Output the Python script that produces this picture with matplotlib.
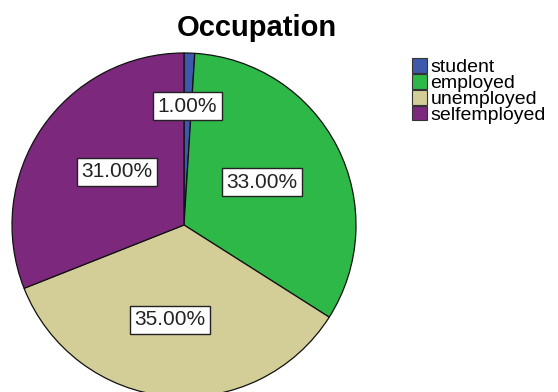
import matplotlib.pyplot as plt
from matplotlib.patches import Patch

categories = ["student", "employed", "unemployed", "selfemployed"]
percents = [1.0, 33.0, 35.0, 31.0]
colors = ["#3E58AC", "#2EB848", "#D3CE97", "#7C287D"]

# where each percentage box sits, in pie-radius units from the centre
label_xy = [(0.02, 0.69), (0.455, 0.25), (-0.08, -0.55), (-0.39, 0.31)]

plt.rcParams['font.family'] = ['Liberation Sans', 'DejaVu Sans']

fig = plt.figure(figsize=(5.58, 3.92), dpi=100)
W, H = 558, 392
cx, cy, r = 184, 225, 172
ax = fig.add_axes([(cx - r) / W, (H - cy - r) / H, 2 * r / W, 2 * r / H])

wedges, _ = ax.pie(percents, colors=colors, startangle=90, counterclock=False,
                   radius=1, wedgeprops=dict(edgecolor="#111111", linewidth=0.9))
ax.set_xlim(-1, 1)
ax.set_ylim(-1, 1)
ax.set_aspect("equal")
ax.axis("off")

for p, (x, y) in zip(percents, label_xy):
    ax.text(x, y, f"{p:.2f}%", ha="center", va="center", fontsize=15, color="#222222",
            bbox=dict(boxstyle="square,pad=0.22", fc="white", ec="#222222", lw=1.0))

fig.text(257 / W, 1 - 36 / H, "Occupation", ha="center", va="baseline",
         fontsize=21, fontweight="bold")

handles = [Patch(facecolor=c, edgecolor="#333333", linewidth=0.8) for c in colors]
fig.legend(handles, categories, loc="upper left", bbox_to_anchor=(412 / W, 1 - 58 / H),
           frameon=False, fontsize=14, handlelength=0.75, handleheight=0.8,
           handletextpad=0.2, labelspacing=-0.12, borderpad=0, borderaxespad=0)

fig.savefig("out.png", dpi=100)
